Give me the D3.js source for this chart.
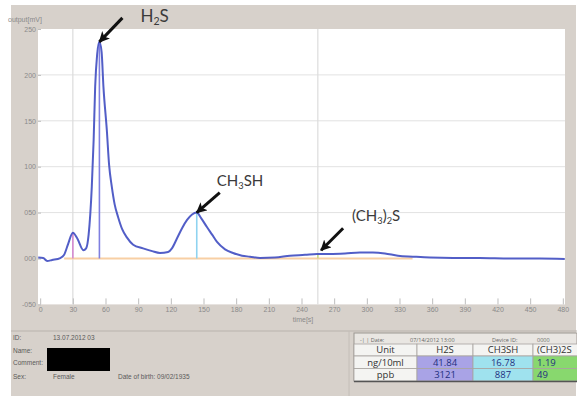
<!DOCTYPE html>
<html>
<head>
<meta charset="utf-8">
<script src="https://cdn.jsdelivr.net/npm/d3@7/dist/d3.min.js"></script>
<style>
  html, body { margin: 0; padding: 0; background: #ffffff; }
  svg { display: block; }
</style>
</head>
<body>
<svg id="chart" width="577" height="396"></svg>
<script>
// Chromatogram trace: retention time [s] and detector output [mV]
const timeS = [-1.8, 2.8, 6.4, 11, 18.4, 22, 25.7, 30, 34, 39.7, 42.2, 44.5, 47.4, 49.1, 50.5, 52.3, 54.4,
  56.4, 58.1, 61.2, 63.3, 65.8, 68.4, 71.6, 75.3, 79.6, 85.4, 94.5, 102.8, 110, 117.5, 121, 125.7, 130.3,
  134.9, 139.5, 143.8, 147.8, 153.3, 157.9, 162.4, 169.8, 177.1, 185.4, 192.7, 201.9, 215.7, 229.4, 243.2,
  254.2, 266.2, 280, 293.7, 305.6, 316.6, 328.6, 342.3, 358, 379, 403.8, 431.3, 458.9, 481.8];
const outputMV = [1, 0.5, -2.7, -1.6, 0.5, 4, 16, 28, 22, 9, 11, 26, 78, 129, 187, 222, 236,
  225, 187, 140, 102, 78, 59, 45, 32, 23, 15, 11, 8, 6, 7, 11, 22, 33,
  42, 48, 50, 44, 34, 26, 18, 10, 6, 3, 2, 0.5, 1, 3, 4,
  5, 5, 5.5, 6.5, 6.5, 5.5, 3, 2, 1, 0.5, 0.5, 0, 0, -0.5];

// Axis ticks
const xTickValues = [0, 30, 60, 90, 120, 150, 180, 210, 240, 270, 300, 330, 360, 390, 420, 450, 480];
const yTickValues = [250, 200, 150, 100, 50, 0, -50];
const yTickLabels = ["250", "200", "150", "100", "050", "000", "-050"];

// Integration markers: peak time, peak height, colour
const peakTimes = [30, 54.4, 143.8, 255];
const peakHeights = [28, 236, 50, 5];
const peakColors = ["#d58ad0", "#7f7fe0", "#8fd3f0", "#c9d98a"];
const windowLines = [30, 255];   // full-height window marks
const baselineRange = [22, 342];

// Compound annotations
const compounds = ["H2S", "CH3SH", "(CH3)2S"];
const arrowTimes = [54.4, 143.8, 258];
const arrowValues = [236, 50, 9];

// Result table
const tableUnits = ["ng/10ml", "ppb"];
const tableHeaders = ["Unit", "H2S", "CH3SH", "(CH3)2S"];
const concNg = ["41.84", "16.78", "1.19"];
const concPpb = ["3121", "887", "49"];
const cellColors = ["#a9a3e6", "#9fe2ee", "#88d86e"];

const svg = d3.select("#chart");
const W = 577, H = 396;

// window background
svg.append("rect").attr("x", 11).attr("y", 5).attr("width", W - 12).attr("height", H - 5).attr("fill", "#d7d1cb");

const x = d3.scaleLinear().domain([-2, 482]).range([38, 565]);
const y = d3.scaleLinear().domain([-50, 250]).range([304.4, 29]);

// plot area
svg.append("rect").attr("x", x.range()[0]).attr("y", y.range()[1])
  .attr("width", x.range()[1] - x.range()[0]).attr("height", y.range()[0] - y.range()[1])
  .attr("fill", "#ffffff");

// horizontal grid
svg.append("g").selectAll("line").data([200, 150, 100, 50]).join("line")
  .attr("x1", x.range()[0]).attr("x2", x.range()[1])
  .attr("y1", d => y(d)).attr("y2", d => y(d))
  .attr("stroke", "#e2e2e2").attr("stroke-width", 1);

// window lines
svg.append("g").selectAll("line").data(windowLines).join("line")
  .attr("x1", d => x(d)).attr("x2", d => x(d))
  .attr("y1", y.range()[1]).attr("y2", y.range()[0])
  .attr("stroke", "#dcdcdc").attr("stroke-width", 1.2);

// baseline
svg.append("line")
  .attr("x1", x(baselineRange[0])).attr("x2", x(baselineRange[1]))
  .attr("y1", y(0)).attr("y2", y(0))
  .attr("stroke", "#f8cfa4").attr("stroke-width", 2);

// peak markers
svg.append("g").selectAll("line").data(peakTimes).join("line")
  .attr("x1", d => x(d)).attr("x2", d => x(d))
  .attr("y1", y(0)).attr("y2", (d, i) => y(peakHeights[i]))
  .attr("stroke", (d, i) => peakColors[i]).attr("stroke-width", 1.6);

// axes
const axisFont = "Liberation Sans, Arial, sans-serif";
const gx = svg.append("g").attr("transform", `translate(0,${y(-50)})`)
  .call(d3.axisBottom(x).tickValues(xTickValues).tickSizeInner(-6).tickSizeOuter(0).tickPadding(3));
const gy = svg.append("g").attr("transform", `translate(${x.range()[0]},0)`)
  .call(d3.axisLeft(y).tickValues(yTickValues).tickFormat((d, i) => yTickLabels[i])
    .tickSizeInner(-3).tickSizeOuter(0).tickPadding(2));
[gx, gy].forEach(g => {
  g.select(".domain").remove();
  g.selectAll(".tick line").attr("stroke", "#bdbdbd");
  g.selectAll(".tick text").attr("fill", "#8a8a8a").style("font-size", "7px").style("font-family", axisFont);
});

svg.append("text").attr("x", 8).attr("y", 22).text("output[mV]")
  .attr("fill", "#8a8a8a").style("font-size", "7px").style("font-family", axisFont);
svg.append("text").attr("x", 303).attr("y", 322).attr("text-anchor", "middle").text("time[s]")
  .attr("fill", "#8a8a8a").style("font-size", "7px").style("font-family", axisFont);

// trace
const trace = d3.line().x(d => x(d[0])).y(d => y(d[1])).curve(d3.curveMonotoneX);
svg.append("path").datum(timeS.map((t, i) => [t, outputMV[i]]))
  .attr("d", trace).attr("fill", "none")
  .attr("stroke", "#4350c2").attr("stroke-width", 2).attr("stroke-linejoin", "round")
  .attr("opacity", 0.92);

// annotation arrows
svg.append("defs").append("marker").attr("id", "head")
  .attr("viewBox", "0 0 10 10").attr("refX", 9).attr("refY", 5)
  .attr("markerWidth", 3.6).attr("markerHeight", 3.6).attr("orient", "auto")
  .append("path").attr("d", "M0,0 L10,5 L0,10 L2.5,5 Z").attr("fill", "#111");

const arrowOffsets = [[23, -24], [23, -20], [22, -22]];
const labelPos = [[41, -20], [20, -27], [31, -29]];
const labelSize = [17, 15, 15];
const annoFont = "Lato, 'Open Sans', sans-serif";

compounds.forEach((name, i) => {
  const hx = x(arrowTimes[i]), hy = y(arrowValues[i]);
  svg.append("line")
    .attr("x1", hx + arrowOffsets[i][0]).attr("y1", hy + arrowOffsets[i][1])
    .attr("x2", hx).attr("y2", hy)
    .attr("stroke", "#111").attr("stroke-width", 3).attr("marker-end", "url(#head)");
  const t = svg.append("text")
    .attr("x", hx + labelPos[i][0]).attr("y", hy + labelPos[i][1])
    .attr("fill", "#3a3a3a").style("font-family", annoFont).style("font-size", labelSize[i] + "px");
  // chemical formula with subscripts
  const parts = name.match(/[A-Za-z()]+|\d+/g);
  parts.forEach(p => {
    if (/^\d+$/.test(p)) {
      t.append("tspan").attr("baseline-shift", "-28%").style("font-size", (labelSize[i] * 0.62) + "px").text(p);
    } else {
      t.append("tspan").text(p);
    }
  });
});

// info panel
svg.append("line").attr("x1", 11).attr("x2", W).attr("y1", 331).attr("y2", 331)
  .attr("stroke", "#b9b3ad").attr("stroke-width", 1.2);
svg.append("line").attr("x1", 349).attr("x2", 349).attr("y1", 331).attr("y2", H)
  .attr("stroke", "#c4beb8").attr("stroke-width", 1);

const infoFont = "Liberation Sans, Arial, sans-serif";
const infoRows = [["ID:", "13.07.2012 03", 340], ["Name:", "", 353], ["Comment:", "", 365], ["Sex:", "Female", 379]];
const info = svg.append("g").style("font-family", infoFont).style("font-size", "6.5px").attr("fill", "#5a5a5a");
info.selectAll("text.k").data(infoRows).join("text").attr("class", "k")
  .attr("x", 13).attr("y", d => d[2]).text(d => d[0]);
info.selectAll("text.v").data(infoRows).join("text").attr("class", "v")
  .attr("x", 53).attr("y", d => d[2]).text(d => d[1]);
info.append("text").attr("x", 118).attr("y", 379).text("Date of birth:  09/02/1935");
svg.append("rect").attr("x", 47).attr("y", 348).attr("width", 63).attr("height", 23).attr("fill", "#000");

// result table
const colX = [354, 417, 473, 533, 590];
const rowY = [344, 356, 368.5, 381];
const tbl = svg.append("g").style("font-family", "'Open Sans', Arial, sans-serif");
tbl.append("rect").attr("x", 354).attr("y", 333).attr("width", W - 354).attr("height", 48)
  .attr("fill", "#e9e6e2").attr("stroke", "#9c9792").attr("stroke-width", 1);
tbl.append("text").attr("x", 360).attr("y", 342).text("-| |  Date:")
  .attr("fill", "#666").style("font-size", "5.5px");
tbl.append("text").attr("x", 410).attr("y", 342).text("07/14/2012 13:00")
  .attr("fill", "#666").style("font-size", "5.5px");
tbl.append("text").attr("x", 492).attr("y", 342).text("Device ID:")
  .attr("fill", "#666").style("font-size", "5.5px");
tbl.append("text").attr("x", 537).attr("y", 342).text("0000")
  .attr("fill", "#666").style("font-size", "5.5px");

const tableRows = [tableHeaders, [tableUnits[0], ...concNg], [tableUnits[1], ...concPpb]];
tableRows.forEach((row, r) => {
  row.forEach((cell, c) => {
    const fill = (r === 0 || c === 0) ? "#f4f4f2" : cellColors[c - 1];
    tbl.append("rect").attr("x", colX[c]).attr("y", rowY[r])
      .attr("width", colX[c + 1] - colX[c]).attr("height", rowY[r + 1] - rowY[r])
      .attr("fill", fill).attr("stroke", "#a8a4a0").attr("stroke-width", 0.8);
    tbl.append("text")
      .attr("x", (colX[c] + Math.min(colX[c + 1], 621)) / 2 - (c === 3 ? 21 : 0))
      .attr("y", (rowY[r] + rowY[r + 1]) / 2 + 3.4)
      .attr("text-anchor", c === 3 ? "start" : "middle")
      .attr("x", c === 3 ? colX[c] + 4 : (colX[c] + colX[c + 1]) / 2)
      .attr("fill", (r === 0 || c === 0) ? "#333" : "#1f2f80")
      .style("font-size", "9.5px").text(cell);
  });
});
tbl.append("line").attr("x1", 354).attr("x2", W).attr("y1", 381.5).attr("y2", 381.5)
  .attr("stroke", "#555").attr("stroke-width", 1.5);
</script>
</body>
</html>
